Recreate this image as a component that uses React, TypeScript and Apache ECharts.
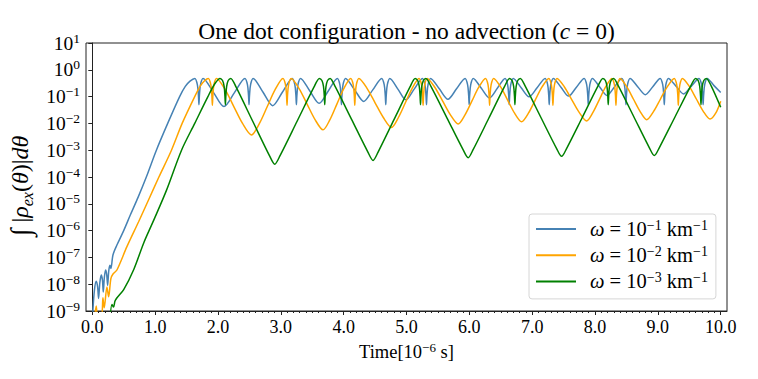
import React, { useEffect, useRef } from "react";
import * as echarts from "echarts";

const FONT = "'Liberation Serif', 'DejaVu Serif', serif";

const xTickValues = [0, 1, 2, 3, 4, 5, 6, 7, 8, 9, 10];
const xTickLabels = ["0.0", "1.0", "2.0", "3.0", "4.0", "5.0", "6.0", "7.0", "8.0", "9.0", "10.0"];
const xMinorTickValues = [
  0.1, 0.2, 0.3, 0.4, 0.5, 0.6, 0.7, 0.8, 0.9, 1.1, 1.2, 1.3, 1.4, 1.5, 1.6, 1.7, 1.8, 1.9,
  2.1, 2.2, 2.3, 2.4, 2.5, 2.6, 2.7, 2.8, 2.9, 3.1, 3.2, 3.3, 3.4, 3.5, 3.6, 3.7, 3.8, 3.9,
  4.1, 4.2, 4.3, 4.4, 4.5, 4.6, 4.7, 4.8, 4.9, 5.1, 5.2, 5.3, 5.4, 5.5, 5.6, 5.7, 5.8, 5.9,
  6.1, 6.2, 6.3, 6.4, 6.5, 6.6, 6.7, 6.8, 6.9, 7.1, 7.2, 7.3, 7.4, 7.5, 7.6, 7.7, 7.8, 7.9,
  8.1, 8.2, 8.3, 8.4, 8.5, 8.6, 8.7, 8.8, 8.9, 9.1, 9.2, 9.3, 9.4, 9.5, 9.6, 9.7, 9.8, 9.9,
];
const yTickValues = [1e-9, 1e-8, 1e-7, 1e-6, 1e-5, 1e-4, 1e-3, 1e-2, 1e-1, 1, 10];
const yTickExponents = ["−9", "−8", "−7", "−6", "−5", "−4", "−3", "−2", "−1", "0", "1"];

const seriesNames = ["ω = 10⁻¹ km⁻¹", "ω = 10⁻² km⁻¹", "ω = 10⁻³ km⁻¹"];
const legendExponents = ["−1", "−2", "−3"];
const seriesColors = ["#4682b4", "#ffa500", "#008000"];

// [time (10^-6 s), log10 of ∫|ρ_ex(θ)|dθ]
const blueCurve: [number, number][] = [
  [0.0, -9.6], [0.01, -8.97], [0.035, -8.2], [0.063, -7.89], [0.085, -8.1], [0.1, -8.53],
  [0.12, -7.95], [0.143, -7.66], [0.162, -7.85], [0.175, -8.29], [0.192, -7.75], [0.212, -7.47],
  [0.23, -7.65], [0.244, -8.04], [0.262, -7.5], [0.281, -7.29], [0.297, -7.41], [0.329, -6.91],
  [0.392, -6.54], [0.5, -6.0], [0.605, -5.42], [0.73, -4.75], [0.86, -4.0], [1.02, -3.0],
  [1.2, -2.0], [1.39, -1.0], [1.48, -0.62], [1.555, -0.42],
  [1.632, -0.32], [1.672, -0.55], [1.689, -0.95], [1.697, -1.3], [1.705, -0.95], [1.722, -0.55], [1.762, -0.32],
  [1.93, -0.85], [2.095, -1.37], [2.262, -0.85],
  [2.429, -0.32], [2.469, -0.55], [2.486, -0.95], [2.494, -1.3], [2.502, -0.95], [2.519, -0.55], [2.559, -0.32],
  [2.715, -0.83], [2.87, -1.34], [3.027, -0.83],
  [3.183, -0.32], [3.223, -0.55], [3.24, -0.95], [3.248, -1.3], [3.256, -0.95], [3.273, -0.55], [3.313, -0.32],
  [3.462, -0.79], [3.61, -1.25], [3.755, -0.79],
  [3.9, -0.32], [3.94, -0.55], [3.957, -0.95], [3.965, -1.3], [3.973, -0.95], [3.99, -0.55], [4.03, -0.32],
  [4.175, -0.75], [4.32, -1.18], [4.463, -0.75],
  [4.605, -0.32], [4.645, -0.55], [4.662, -0.95], [4.67, -1.3], [4.678, -0.95], [4.695, -0.55], [4.735, -0.32],
  [4.863, -0.72], [4.99, -1.12], [5.122, -0.72],
  [5.253, -0.32], [5.293, -0.55], [5.31, -0.95], [5.318, -1.3], [5.326, -0.95], [5.343, -0.55], [5.383, -0.32],
  [5.522, -0.71], [5.66, -1.1], [5.796, -0.71],
  [5.932, -0.32], [5.972, -0.55], [5.989, -0.95], [5.997, -1.3], [6.005, -0.95], [6.022, -0.55], [6.062, -0.32],
  [6.191, -0.69], [6.32, -1.05], [6.445, -0.69],
  [6.569, -0.32], [6.609, -0.55], [6.626, -0.95], [6.634, -1.3], [6.642, -0.95], [6.659, -0.55], [6.699, -0.32],
  [6.825, -0.67], [6.95, -1.01], [7.078, -0.67],
  [7.206, -0.32], [7.246, -0.55], [7.263, -0.95], [7.271, -1.3], [7.279, -0.95], [7.296, -0.55], [7.336, -0.32],
  [7.458, -0.65], [7.58, -0.98], [7.704, -0.65],
  [7.827, -0.32], [7.867, -0.55], [7.884, -0.95], [7.892, -1.3], [7.9, -0.95], [7.917, -0.55], [7.957, -0.32],
  [8.074, -0.64], [8.19, -0.96], [8.309, -0.64],
  [8.427, -0.32], [8.467, -0.55], [8.484, -0.95], [8.492, -1.3], [8.5, -0.95], [8.517, -0.55], [8.557, -0.32],
  [8.679, -0.63], [8.8, -0.93], [8.919, -0.63],
  [9.037, -0.32], [9.077, -0.55], [9.094, -0.95], [9.102, -1.3], [9.11, -0.95], [9.127, -0.55], [9.167, -0.32],
  [9.289, -0.61], [9.41, -0.9], [9.533, -0.61],
  [9.655, -0.32], [9.695, -0.55], [9.712, -0.95], [9.72, -1.3], [9.728, -0.95], [9.745, -0.55], [9.785, -0.32],
  [9.893, -0.59], [10.0, -0.85],
];

const orangeCurve: [number, number][] = [
  [0.03, -9.4], [0.063, -8.81], [0.09, -9.4], [0.15, -9.2], [0.169, -8.51], [0.19, -8.88],
  [0.233, -8.1], [0.26, -8.47], [0.296, -7.79], [0.33, -7.62], [0.392, -7.47], [0.551, -6.6],
  [0.737, -5.67], [0.9, -4.83], [1.06, -4.0], [1.26, -3.0], [1.43, -2.0], [1.63, -1.0],
  [1.72, -0.6], [1.79, -0.4],
  [1.846, -0.32], [1.886, -0.55], [1.903, -0.95], [1.911, -1.32], [1.919, -0.95], [1.936, -0.55], [1.976, -0.32],
  [2.115, -0.74], [2.254, -1.38], [2.393, -2.01], [2.532, -2.43], [2.658, -2.01], [2.783, -1.38], [2.909, -0.74],
  [3.034, -0.32], [3.074, -0.55], [3.091, -0.95], [3.099, -1.32], [3.107, -0.95], [3.124, -0.55], [3.164, -0.32],
  [3.291, -0.7], [3.418, -1.28], [3.545, -1.86], [3.672, -2.24], [3.782, -1.86], [3.892, -1.28], [4.002, -0.7],
  [4.112, -0.32], [4.152, -0.55], [4.169, -0.95], [4.177, -1.32], [4.185, -0.95], [4.202, -0.55], [4.242, -0.32],
  [4.372, -0.69], [4.502, -1.24], [4.631, -1.78], [4.761, -2.15], [4.871, -1.78], [4.98, -1.24], [5.09, -0.69],
  [5.199, -0.32], [5.239, -0.55], [5.256, -0.95], [5.264, -1.32], [5.272, -0.95], [5.289, -0.55], [5.329, -0.32],
  [5.452, -0.66], [5.576, -1.17], [5.699, -1.68], [5.822, -2.02], [5.931, -1.68], [6.04, -1.17], [6.148, -0.66],
  [6.257, -0.32], [6.297, -0.55], [6.314, -0.95], [6.322, -1.32], [6.33, -0.95], [6.347, -0.55], [6.387, -0.32],
  [6.498, -0.64], [6.609, -1.13], [6.72, -1.62], [6.831, -1.94], [6.94, -1.62], [7.048, -1.13], [7.157, -0.64],
  [7.265, -0.32], [7.305, -0.55], [7.322, -0.95], [7.33, -1.32], [7.338, -0.95], [7.355, -0.55], [7.395, -0.32],
  [7.513, -0.64], [7.631, -1.12], [7.748, -1.59], [7.866, -1.91], [7.967, -1.59], [8.067, -1.12], [8.168, -0.64],
  [8.268, -0.32], [8.308, -0.55], [8.325, -0.95], [8.333, -1.32], [8.341, -0.95], [8.358, -0.55], [8.398, -0.32],
  [8.504, -0.63], [8.61, -1.09], [8.716, -1.55], [8.822, -1.86], [8.932, -1.55], [9.041, -1.09], [9.151, -0.63],
  [9.26, -0.32], [9.3, -0.55], [9.317, -0.95], [9.325, -1.32], [9.333, -0.95], [9.35, -0.55], [9.39, -0.32],
  [9.5, -0.62], [9.61, -1.08], [9.72, -1.54], [9.83, -1.84], [9.92, -1.62], [10.0, -1.17],
];

const greenCurve: [number, number][] = [
  [0.28, -9.4], [0.313, -8.76], [0.339, -8.85], [0.366, -8.6], [0.5, -8.2], [0.66, -7.45],
  [0.82, -6.45], [0.98, -5.6], [1.18, -4.5], [1.42, -3.0], [1.63, -2.0], [1.84, -1.0], [1.95, -0.52],
  [2.033, -0.32], [2.073, -0.4], [2.098, -0.62], [2.111, -0.98], [2.118, -1.3], [2.125, -0.98], [2.138, -0.62], [2.163, -0.4], [2.203, -0.32],
  [2.287, -0.64], [2.553, -1.92], [2.819, -3.2], [2.903, -3.52], [2.988, -3.2], [3.259, -1.92], [3.529, -0.64],
  [3.614, -0.32], [3.654, -0.4], [3.679, -0.62], [3.692, -0.98], [3.699, -1.3], [3.706, -0.98], [3.719, -0.62], [3.744, -0.4], [3.784, -0.32],
  [3.866, -0.63], [4.126, -1.85], [4.386, -3.07], [4.468, -3.38], [4.548, -3.07], [4.803, -1.85], [5.058, -0.63],
  [5.138, -0.32], [5.178, -0.4], [5.203, -0.62], [5.216, -0.98], [5.223, -1.3], [5.23, -0.98], [5.243, -0.62], [5.268, -0.4], [5.308, -0.32],
  [5.389, -0.62], [5.645, -1.8], [5.9, -2.98], [5.981, -3.28], [6.06, -2.98], [6.311, -1.8], [6.561, -0.62],
  [6.64, -0.32], [6.68, -0.4], [6.705, -0.62], [6.718, -0.98], [6.725, -1.3], [6.732, -0.98], [6.745, -0.62], [6.77, -0.4], [6.81, -0.32],
  [6.889, -0.61], [7.139, -1.78], [7.389, -2.94], [7.468, -3.23], [7.547, -2.94], [7.797, -1.78], [8.046, -0.61],
  [8.125, -0.32], [8.165, -0.4], [8.19, -0.62], [8.203, -0.98], [8.21, -1.3], [8.217, -0.98], [8.23, -0.62], [8.255, -0.4], [8.295, -0.32],
  [8.373, -0.61], [8.619, -1.76], [8.865, -2.91], [8.943, -3.2], [9.022, -2.91], [9.272, -1.76], [9.522, -0.61],
  [9.601, -0.32], [9.641, -0.4], [9.666, -0.62], [9.679, -0.98], [9.686, -1.3], [9.693, -0.98], [9.706, -0.62], [9.731, -0.4], [9.771, -0.32],
  [9.85, -0.61], [10.0, -1.4],
];

const curves = [blueCurve, orangeCurve, greenCurve];

const base = (size: number, extra: Record<string, unknown> = {}) => ({
  fontFamily: FONT,
  fontSize: size,
  color: "#000",
  ...extra,
});

export default function App() {
  const ref = useRef<HTMLDivElement>(null);

  useEffect(() => {
    if (!ref.current) return;
    const chart = echarts.init(ref.current, undefined, { renderer: "svg" });

    const option: any = {
      animation: false,
      backgroundColor: "#ffffff",
      graphic: [
        {
          type: "text",
          x: 406.5,
          y: 31,
          style: {
            text: "{a|One dot configuration - no advection (}{i|c}{a| = 0)}",
            align: "center",
            verticalAlign: "middle",
            rich: {
              a: base(23.5),
              i: base(23.5, { fontStyle: "italic" }),
            },
          },
        },
      ],
      grid: {
        left: 86,
        top: 43,
        right: 31,
        bottom: 68,
        containLabel: false,
        outerBoundsMode: "none",
        show: true,
        borderColor: "#222",
        borderWidth: 1,
        backgroundColor: "transparent",
      },
      legend: {
        orient: "vertical",
        left: 529,
        top: 214,
        icon: "rect",
        itemWidth: 40,
        itemHeight: 2,
        itemGap: 4.7,
        padding: [4, 8, 7, 7],
        backgroundColor: "rgba(255,255,255,0.85)",
        borderColor: "#d6d6d6",
        borderWidth: 1,
        borderRadius: 3,
        data: seriesNames,
        formatter: (name: string) => {
          const i = seriesNames.indexOf(name);
          return `{w|ω}{t| = 10}{s|${legendExponents[i]}}{t| km}{s|−1}`;
        },
        textStyle: {
          rich: {
            w: base(20.5, { fontStyle: "italic", padding: [0, 0, 0, 9], lineHeight: 22 }),
            t: base(20.5, { lineHeight: 22 }),
            s: base(14, { verticalAlign: "top", lineHeight: 13 }),
          },
        },
      },
      xAxis: [
        {
          type: "value",
          min: -0.1,
          max: 10.1,
          axisLine: { show: true, lineStyle: { color: "#222", width: 1 } },
          axisTick: { show: true, customValues: xTickValues, length: 4, lineStyle: { color: "#222" } },
          axisLabel: {
            customValues: xTickValues,
            formatter: (v: number) => xTickLabels[xTickValues.indexOf(Math.round(v))] ?? "",
            margin: 7,
            ...base(18),
          },
          splitLine: { show: false },
          name: "{a|Time[10}{s|−6}{a| s]}",
          nameLocation: "middle",
          nameGap: 30,
          nameTextStyle: {
            rich: {
              a: base(18.5, { lineHeight: 22 }),
              s: base(13, { verticalAlign: "top", lineHeight: 13 }),
            },
          },
        },
        {
          type: "value",
          min: -0.1,
          max: 10.1,
          position: "bottom",
          axisLine: { show: false },
          axisTick: { show: true, customValues: xMinorTickValues, length: 2, lineStyle: { color: "#222" } },
          axisLabel: { show: false },
          splitLine: { show: false },
        },
      ],
      yAxis: {
        type: "log",
        logBase: 10,
        min: 1e-9,
        max: 10,
        axisLine: { show: true, lineStyle: { color: "#222", width: 1 } },
        axisTick: { show: true, customValues: yTickValues, length: 4, lineStyle: { color: "#222" } },
        axisLabel: {
          customValues: yTickValues,
          margin: 6,
          formatter: (v: number) => {
            const i = yTickValues.findIndex((t) => Math.abs(Math.log10(t) - Math.log10(v)) < 0.01);
            return `{b|10}{s|${yTickExponents[i]}}`;
          },
          rich: {
            b: base(19.5, { lineHeight: 24 }),
            s: base(13.5, { verticalAlign: "top", lineHeight: 13 }),
          },
        },
        splitLine: { show: false },
        minorTick: { show: false },
        name: "{g|∫}{a| |}{i|ρ}{u|ex}{a|(}{i|θ}{a|)|}{i|d}{e|θ}",
        nameLocation: "middle",
        nameRotate: 90,
        nameGap: 36,
        nameTextStyle: {
          rich: {
            g: base(28, { lineHeight: 30 }),
            a: base(24, { lineHeight: 30 }),
            i: base(24, { fontStyle: "italic", lineHeight: 30 }),
            e: base(24, { fontStyle: "italic", lineHeight: 30, padding: [0, 18, 0, 0] }),
            u: base(16, { fontStyle: "italic", verticalAlign: "bottom", lineHeight: 16 }),
          },
        },
      },
      series: curves.map((curve, i) => ({
        name: seriesNames[i],
        type: "line",
        xAxisIndex: 0,
        showSymbol: false,
        symbol: "none",
        smooth: 0.3,
        clip: true,
        color: seriesColors[i],
        lineStyle: { color: seriesColors[i], width: 1.5 },
        data: curve.map(([t, e]) => [t, Math.pow(10, e)]),
      })),
    };

    chart.setOption(option);
    return () => chart.dispose();
  }, []);

  return (
    <div
      ref={ref}
      style={{ position: "fixed", left: 0, top: 0, width: 758, height: 379, background: "#fff" }}
    />
  );
}
